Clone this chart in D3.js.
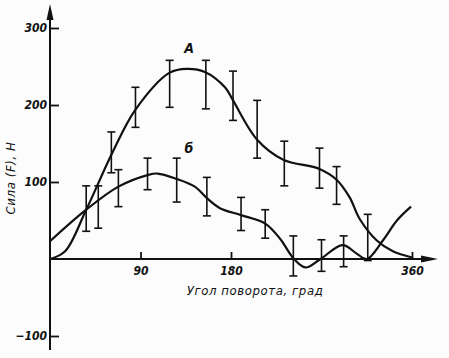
<!DOCTYPE html>
<html>
<head>
<meta charset="utf-8">
<script src="https://cdn.jsdelivr.net/npm/d3@7"></script>
<style>
  body { margin: 0; background: #fcfcfc; }
  svg { display: block; }
  .lbl { font-family: "DejaVu Sans Condensed", "DejaVu Sans", sans-serif; font-style: oblique; fill: #111; }
</style>
</head>
<body>
<svg id="chart" width="449" height="358"></svg>
<script>
// tick labels
const xTicks = [90, 180, 360];
const yTicks = [-100, 100, 200, 300];

// curve A (deg, F)
const curveA = [[0,0],[15,10],[36,64],[62,138],[85,194],[119,242],[136,247],[154,243],[174,223],[182,206],[206,155],[232,129],[268,117],[285,103],[298,80],[308,52],[325,24],[341,10],[360,2]];
// curve Б
const curveB = [[0,23],[36,64],[68,94],[97,109],[107,111],[126,104],[144,94],[156,79],[169,66],[190,57],[214,46],[229,26],[242,1],[254,-11],[268,-1],[291,18],[305,7],[315,0],[331,24],[345,50],[359,68]];

// error bars (deg, low, high)
const barsA = [[48,40,95],[61,112,165],[85,171,223],[119,197,258],[155,195,258],[182,180,244],[206,131,206],[233,95,153],[268,92,144],[285,71,120],[316,-2,58]];
const barsB = [[36,36,95],[68,68,116],[97,90,131],[126,74,131],[156,56,106],[190,37,80],[214,27,64],[242,-22,30],[270,-16,25],[292,-10,30]];

const svg = d3.select("#chart");
const x = d3.scaleLinear().domain([0, 360]).range([50, 412]);
const y = d3.scaleLinear().domain([-100, 300]).range([336, 28]);
const ink = "#111";

// axes lines + arrows
svg.append("line").attr("x1", x(0)).attr("x2", x(0)).attr("y1", 12).attr("y2", 350)
  .attr("stroke", ink).attr("stroke-width", 2);
svg.append("line").attr("x1", x(0)).attr("x2", 428).attr("y1", y(0)).attr("y2", y(0))
  .attr("stroke", ink).attr("stroke-width", 2);
svg.append("path").attr("d", `M${x(0)},4 L${x(0)-3.5},20 L${x(0)+3.5},20 Z`).attr("fill", ink);
svg.append("path").attr("d", `M438,${y(0)} L421,${y(0)-3.5} L421,${y(0)+3.5} Z`).attr("fill", ink);

// ticks pointing inward
const yAxis = d3.axisLeft(y).tickValues(yTicks).tickSize(-9).tickPadding(3).tickFormat(d => d < 0 ? "\u2212" + Math.abs(d) : d);
const gy = svg.append("g").attr("transform", `translate(${x(0)},0)`).call(yAxis);
const xAxis = d3.axisBottom(x).tickValues(xTicks).tickSize(-7).tickPadding(7);
const gx = svg.append("g").attr("transform", `translate(0,${y(0)})`).call(xAxis);
[gy, gx].forEach(g => {
  g.select(".domain").remove();
  g.selectAll(".tick line").attr("stroke", ink).attr("stroke-width", 1.8);
  g.selectAll(".tick text").attr("class", "lbl").attr("font-size", 12).attr("font-weight", "bold").attr("fill", ink);
});

// curves
const line = d3.line().x(d => x(d[0])).y(d => y(d[1])).curve(d3.curveCatmullRom.alpha(0.5));
[curveA, curveB].forEach(c => {
  svg.append("path").datum(c).attr("d", line)
    .attr("fill", "none").attr("stroke", ink).attr("stroke-width", 2.2);
});

// error bars
const bars = svg.append("g").attr("stroke", ink).attr("stroke-width", 1.6);
barsA.concat(barsB).forEach(b => {
  const cx = x(b[0]);
  bars.append("line").attr("x1", cx).attr("x2", cx).attr("y1", y(b[1])).attr("y2", y(b[2]));
  bars.append("line").attr("x1", cx - 4).attr("x2", cx + 4).attr("y1", y(b[1])).attr("y2", y(b[1]));
  bars.append("line").attr("x1", cx - 4).attr("x2", cx + 4).attr("y1", y(b[2])).attr("y2", y(b[2]));
});

// curve labels
svg.append("text").attr("class", "lbl").attr("x", 189).attr("y", 53).attr("text-anchor", "middle")
  .attr("font-size", 14).attr("font-weight", "bold").text("А");
svg.append("text").attr("class", "lbl").attr("x", 189).attr("y", 153).attr("text-anchor", "middle")
  .attr("font-size", 14).attr("font-weight", "bold").text("б");

// axis titles
svg.append("text").attr("class", "lbl").attr("x", 255).attr("y", 295).attr("text-anchor", "middle")
  .attr("font-size", 13).attr("letter-spacing", 0.6).text("Угол поворота, град");
svg.append("text").attr("class", "lbl").attr("transform", "translate(15,178) rotate(-90)")
  .attr("text-anchor", "middle").attr("font-size", 13).attr("letter-spacing", 0.6).text("Сила (F), Н");
</script>
</body>
</html>
